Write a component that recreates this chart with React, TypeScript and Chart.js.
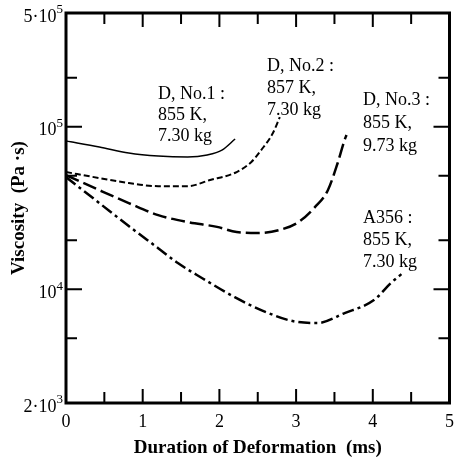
import React, { useEffect, useRef } from 'react';
import { Chart, registerables } from 'chart.js';
Chart.register(...registerables);

// Duration of deformation (ms) and viscosity (Pa·s) per run
const no1T = [0, 0.435, 0.818, 1.202, 1.586, 1.841, 2.033, 2.205];
const no1V = [81700, 75000, 68900, 66000, 65100, 67000, 71800, 84000];
const no2T = [0, 0.435, 0.818, 1.202, 1.586, 1.88, 2.225, 2.417, 2.545, 2.698, 2.788];
const no2V = [52600, 48300, 45000, 43100, 43100, 47000, 52600, 60700, 71800, 91400, 114600];
const no3T = [0, 0.435, 0.818, 1.202, 1.586, 1.969, 2.225, 2.506, 2.775, 3.031, 3.248, 3.414, 3.542, 3.632, 3.657];
const no3V = [50400, 40700, 33900, 28600, 25900, 24200, 22500, 22200, 23100, 25900, 32100, 40700, 59800, 82800, 88900];
const a356T = [0, 0.435, 0.818, 1.202, 1.458, 1.777, 2.199, 2.609, 2.954, 3.274, 3.632, 4.015, 4.233, 4.373];
const a356V = [49000, 33900, 24500, 17900, 14500, 11700, 8950, 7240, 6380, 6200, 7140, 8590, 10900, 12400];

const yTickValues = [2000, 10000, 100000, 500000];
const yTickBases = ['2·10', '10', '10', '5·10'];
const yTickExps = ['3', '4', '5', '5'];
const yMinorTicks = [5000, 20000, 50000, 200000];
const xTickValues = [0, 1, 2, 3, 4, 5];
const xMinorTicks = [0.5, 1.5, 2.5, 3.5, 4.5];

const labelNo1 = ['D, No.1 :', '855 K,', '7.30 kg'];
const labelNo2 = ['D, No.2 :', '857 K,', '7.30 kg'];
const labelNo3 = ['D, No.3 :', '855 K,', '9.73 kg'];
const labelA356 = ['A356 :', '855 K,', '7.30 kg'];

const SERIF = '"Liberation Serif"';
const pts = (t: number[], v: number[]) => t.map((x, i) => ({ x, y: v[i] }));

const framePlugin = {
  id: 'frameTicks',
  afterDraw(chart: any) {
    const { ctx, chartArea: a, scales } = chart;
    const xs = scales.x;
    const ys = scales.y;
    ctx.save();
    ctx.strokeStyle = '#000';
    ctx.lineWidth = 2;
    ctx.lineCap = 'butt';
    const xt = (v: number, len: number) => {
      const px = xs.getPixelForValue(v);
      ctx.beginPath();
      ctx.moveTo(px, a.bottom);
      ctx.lineTo(px, a.bottom - len);
      ctx.moveTo(px, a.top);
      ctx.lineTo(px, a.top + len);
      ctx.stroke();
    };
    const yt = (v: number, len: number) => {
      const py = ys.getPixelForValue(v);
      ctx.beginPath();
      ctx.moveTo(a.left, py);
      ctx.lineTo(a.left + len, py);
      ctx.moveTo(a.right, py);
      ctx.lineTo(a.right - len, py);
      ctx.stroke();
    };
    xTickValues.slice(1, -1).forEach((v) => xt(v, 14));
    xMinorTicks.forEach((v) => xt(v, 11));
    [10000, 100000].forEach((v) => yt(v, 16));
    yMinorTicks.forEach((v) => yt(v, 11));
    ctx.lineWidth = 3;
    ctx.strokeRect(a.left, a.top, a.right - a.left, a.bottom - a.top);

    ctx.fillStyle = '#000';
    // y tick labels with raised exponents
    ctx.textBaseline = 'middle';
    ctx.textAlign = 'left';
    yTickValues.forEach((v, i) => {
      const py = ys.getPixelForValue(v) + 4;
      ctx.font = `18px ${SERIF}`;
      const bw = ctx.measureText(yTickBases[i]).width;
      ctx.font = `13px ${SERIF}`;
      const ew = ctx.measureText(yTickExps[i]).width;
      const x0 = a.left - 3 - bw - ew;
      ctx.font = `18px ${SERIF}`;
      ctx.fillText(yTickBases[i], x0, py);
      ctx.font = `13px ${SERIF}`;
      ctx.fillText(yTickExps[i], x0 + bw, py - 7);
    });

    ctx.font = `18px ${SERIF}`;
    const block = (lines: string[], x: number, y: number, dy: number) => {
      lines.forEach((s, i) => ctx.fillText(s, x, y + i * dy));
    };
    block(labelNo1, 158, 94, 21);
    block(labelNo2, 267, 66, 22);
    block(labelNo3, 363, 100, 23);
    block(labelA356, 363, 218, 22);
    ctx.restore();
  },
};

export default function App() {
  const ref = useRef<HTMLCanvasElement>(null);
  useEffect(() => {
    if (!ref.current) return;
    const base = { fill: false, pointRadius: 0, borderColor: '#000', cubicInterpolationMode: 'monotone' as const, borderCapStyle: 'butt' as const };
    const chart = new Chart(ref.current, {
      type: 'line',
      data: {
        datasets: [
          { ...base, label: 'D, No.1', data: pts(no1T, no1V), borderWidth: 1.5 },
          { ...base, label: 'D, No.2', data: pts(no2T, no2V), borderWidth: 2, borderDash: [6, 3] },
          { ...base, label: 'D, No.3', data: pts(no3T, no3V), borderWidth: 2.5, borderDash: [14, 5] },
          { ...base, label: 'A356', data: pts(a356T, a356V), borderWidth: 2.5, borderDash: [12, 4, 3, 4] },
        ],
      },
      options: {
        animation: false,
        responsive: false,
        layout: { padding: { top: 13, right: 5, left: 0, bottom: 0 } },
        plugins: { legend: { display: false }, tooltip: { enabled: false } },
        scales: {
          x: {
            type: 'linear',
            min: 0,
            max: 5,
            afterBuildTicks: (s: any) => { s.ticks = xTickValues.map((v) => ({ value: v })); },
            afterFit: (s: any) => { s.height = 58; },
            grid: { display: false, drawTicks: false },
            border: { display: false },
            ticks: { color: '#000', padding: 8, font: { family: 'Liberation Serif', size: 18 }, callback: (v: any) => String(v) },
            title: { display: true, text: 'Duration of Deformation  (ms)', color: '#000', font: { family: 'Liberation Serif', size: 19, weight: 'bold' }, padding: { top: 0, bottom: 2 } },
          },
          y: {
            type: 'logarithmic',
            min: 2000,
            max: 500000,
            afterBuildTicks: (s: any) => { s.ticks = yTickValues.map((v) => ({ value: v })); },
            afterFit: (s: any) => { s.width = 66; },
            grid: { display: false, drawTicks: false },
            border: { display: false },
            ticks: { display: false },
            title: { display: true, text: 'Viscosity  (Pa ·s)', color: '#000', font: { family: 'Liberation Serif', size: 19, weight: 'bold' }, padding: { top: 8, bottom: 0 } },
          },
        },
      },
      plugins: [framePlugin],
    });
    return () => chart.destroy();
  }, []);
  return (
    <div style={{ position: 'fixed', left: 0, top: 0, width: 462, height: 461, background: '#fff' }}>
      <canvas ref={ref} width={462} height={461} style={{ display: 'block' }} />
    </div>
  );
}
